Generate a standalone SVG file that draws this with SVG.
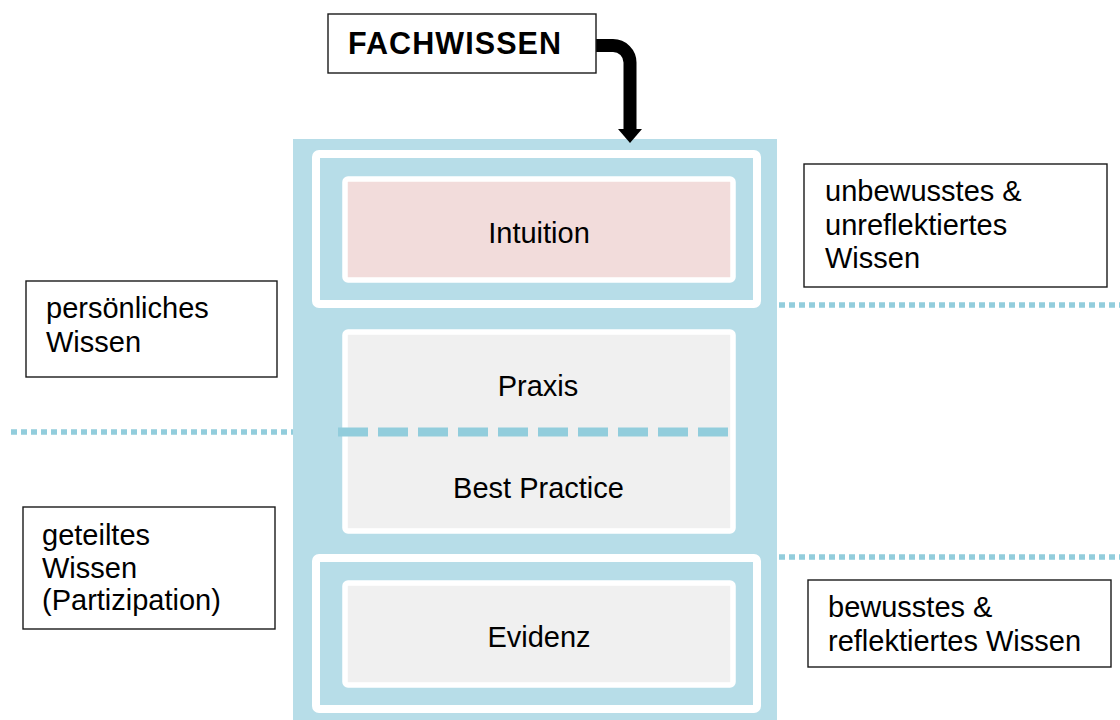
<svg xmlns="http://www.w3.org/2000/svg" width="1120" height="720" viewBox="0 0 1120 720">
<style>
.t{font-family:"Liberation Sans",Arial,sans-serif;font-size:29px;fill:#000}
.c{text-anchor:middle}
.b{font-weight:bold;font-size:30.5px}
.lbl{fill:#fff;stroke:#1a1a1a;stroke-width:1.4}
.ring{fill:#B7DDE8;stroke:#fff;stroke-width:8}
.inner{stroke:#fff;stroke-width:5.5}
.dot{stroke:#92CDDC;stroke-width:5.5;stroke-dasharray:6 4;fill:none}
</style>
<rect width="1120" height="720" fill="#fff"/>
<g id="container">
<rect x="293" y="139" width="484" height="590" fill="#B7DDE8"/>
</g>
<g id="connectors">
<line class="dot" x1="779" y1="305" x2="1120" y2="305"/>
<line class="dot" x1="11" y1="432" x2="293" y2="432"/>
<line class="dot" x1="779" y1="557" x2="1120" y2="557"/>
<path d="M596,45.5 H613 A17,17 0 0 1 630,62.5 V131" fill="none" stroke="#000" stroke-width="13"/>
<polygon points="618,129 642,129 630,143" fill="#000"/>
</g>
<g id="fachwissen">
<rect class="lbl" x="328" y="14" width="268" height="59"/>
<text class="t b" x="348" y="54" textLength="213" lengthAdjust="spacing">FACHWISSEN</text>
</g>
<g id="intuition">
<rect class="ring" x="316" y="154" width="441" height="150" rx="3"/>
<rect class="inner" x="345" y="179" width="388" height="101" rx="3" fill="#F2DCDB"/>
<text class="t c" x="539" y="243">Intuition</text>
</g>
<g id="praxis">
<rect class="inner" x="345" y="332" width="388" height="199" rx="3" fill="#F0F0F0"/>
<text class="t c" x="538" y="396">Praxis</text>
<line x1="338" y1="432" x2="728" y2="432" stroke="#92CDDC" stroke-width="9" stroke-dasharray="30 10"/>
<text class="t c" x="538.5" y="498">Best Practice</text>
</g>
<g id="evidenz">
<rect class="ring" x="316" y="558" width="441" height="151" rx="3"/>
<rect class="inner" x="345" y="583" width="388" height="102" rx="3" fill="#F0F0F0"/>
<text class="t c" x="539" y="647">Evidenz</text>
</g>
<g id="persoenlich">
<rect class="lbl" x="26" y="281" width="251" height="96"/>
<text class="t" x="46" y="318">persönliches</text>
<text class="t" x="46" y="352">Wissen</text>
</g>
<g id="geteilt">
<rect class="lbl" x="23" y="507" width="252" height="122"/>
<text class="t" x="42" y="545">geteiltes</text>
<text class="t" x="42" y="578">Wissen</text>
<text class="t" x="42" y="610">(Partizipation)</text>
</g>
<g id="unbewusst">
<rect class="lbl" x="804" y="164" width="303" height="123"/>
<text class="t" x="825" y="201">unbewusstes &amp;</text>
<text class="t" x="825" y="235">unreflektiertes</text>
<text class="t" x="825" y="268">Wissen</text>
</g>
<g id="bewusst">
<rect class="lbl" x="808" y="580" width="303" height="87"/>
<text class="t" x="828" y="617">bewusstes &amp;</text>
<text class="t" x="828" y="651">reflektiertes Wissen</text>
</g>
</svg>
